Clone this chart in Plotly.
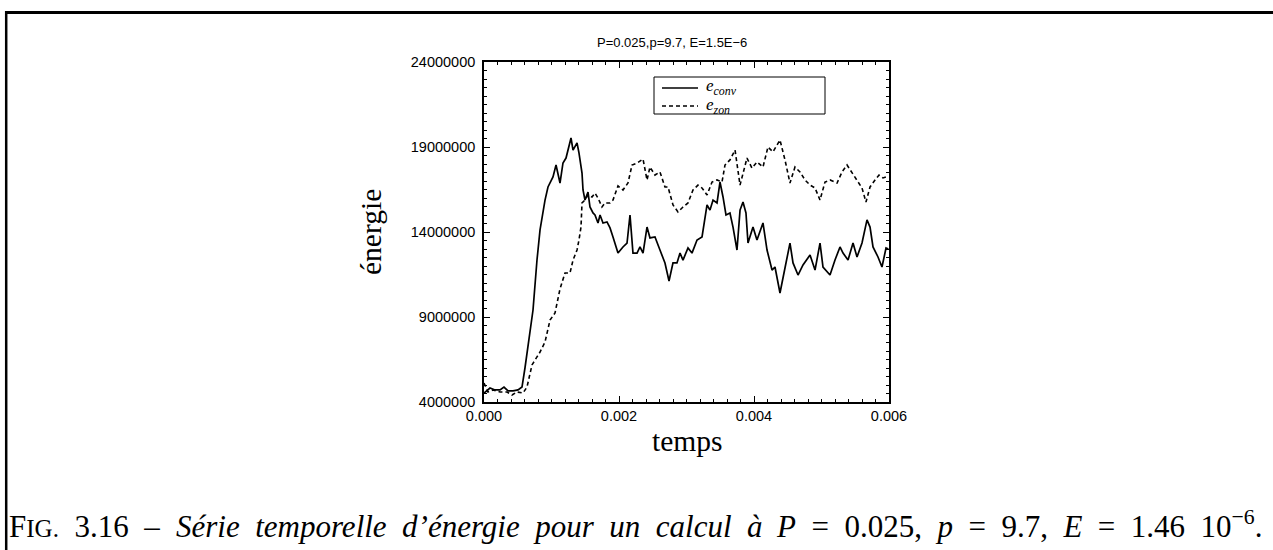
import plotly.graph_objects as go

# Time axis (s) and energy series
t_conv = [0.0, 0.000089, 0.000163, 0.000237, 0.000296, 0.000356, 0.000430, 0.000504, 0.000563, 0.000607,
          0.000726, 0.000756, 0.000785, 0.000830, 0.000904, 0.000948, 0.001022, 0.001067, 0.001126, 0.001170,
          0.001215, 0.001289, 0.001319, 0.001378, 0.001407, 0.001452, 0.001467, 0.001496, 0.001526, 0.001541,
          0.001570, 0.001615, 0.001644, 0.001689, 0.001719, 0.001763, 0.001822, 0.001867, 0.001911, 0.001985,
          0.002059, 0.002119, 0.002163, 0.002207, 0.002267, 0.002311, 0.002356, 0.002415, 0.002459, 0.002533,
          0.002607, 0.002681, 0.002741, 0.002800, 0.002859, 0.002904, 0.002948, 0.003022, 0.003081, 0.003156,
          0.003230, 0.003304, 0.003348, 0.003393, 0.003452, 0.003496, 0.003541, 0.003585, 0.003644, 0.003689,
          0.003748, 0.003793, 0.003837, 0.003881, 0.003911, 0.003985, 0.004044, 0.004133, 0.004193, 0.004267,
          0.004311, 0.004385, 0.004459, 0.004533, 0.004578, 0.004652, 0.004726, 0.004830, 0.004904, 0.004978,
          0.005022, 0.005126, 0.005200, 0.005274, 0.005319, 0.005393, 0.005467, 0.005526, 0.005600, 0.005674,
          0.005719, 0.005763, 0.005837, 0.005896, 0.005956, 0.005990]
e_conv_m = [4.53, 4.82, 4.71, 4.71, 4.88, 4.65, 4.65, 4.71, 4.88, 6.0,
            9.41, 11.18, 12.35, 14.12, 15.88, 16.65, 17.24, 17.94, 16.88, 18.06,
            18.35, 19.53, 18.82, 19.24, 18.65, 17.47, 16.47, 15.88, 16.18, 16.35,
            15.47, 15.12, 15.0, 14.53, 15.0, 14.53, 14.59, 14.24, 13.71, 12.76,
            13.12, 13.35, 15.0, 12.76, 12.76, 13.12, 12.76, 14.29, 13.65, 13.71,
            12.94, 12.18, 11.12, 12.18, 12.18, 12.76, 12.35, 13.06, 12.76, 13.53,
            13.71, 15.59, 15.29, 15.88, 15.71, 16.94, 16.06, 15.0, 15.12, 14.29,
            12.94, 15.29, 15.76, 15.12, 13.35, 14.29, 13.53, 14.53, 12.94, 11.76,
            11.94, 10.41, 11.88, 13.35, 12.18, 11.47, 12.06, 12.65, 11.76, 13.35,
            11.94, 11.47, 12.35, 13.12, 12.76, 12.35, 13.35, 12.53, 13.35, 14.71,
            14.29, 13.12, 12.53, 11.94, 13.06, 13.0]

t_zon = [0.0, 0.000059, 0.000133, 0.000237, 0.000341, 0.000415, 0.000489, 0.000578, 0.000637, 0.000711,
         0.000785, 0.000830, 0.000904, 0.000978, 0.001052, 0.001126, 0.001200, 0.001274, 0.001319, 0.001378,
         0.001407, 0.001437, 0.001452, 0.001496, 0.001541, 0.001600, 0.001644, 0.001689, 0.001748, 0.001793,
         0.001867, 0.001911, 0.001985, 0.002059, 0.002133, 0.002193, 0.002267, 0.002356, 0.002415, 0.002459,
         0.002533, 0.002607, 0.002681, 0.002726, 0.002800, 0.002874, 0.002948, 0.003022, 0.003096, 0.003170,
         0.003230, 0.003304, 0.003378, 0.003452, 0.003526, 0.003570, 0.003644, 0.003719, 0.003793, 0.003837,
         0.003896, 0.003970, 0.004044, 0.004133, 0.004207, 0.004281, 0.004385, 0.004459, 0.004533, 0.004607,
         0.004681, 0.004756, 0.004830, 0.004904, 0.004978, 0.005052, 0.005126, 0.005230, 0.005304, 0.005378,
         0.005452, 0.005526, 0.005600, 0.005659, 0.005719, 0.005793, 0.005852, 0.005911, 0.005956]
e_zon_m = [5.12, 4.59, 4.71, 4.59, 4.59, 4.41, 4.59, 4.53, 4.88, 6.18,
           6.65, 6.94, 7.53, 8.82, 9.24, 10.65, 11.59, 11.59, 12.35, 12.94,
           13.53, 14.29, 15.71, 15.88, 16.18, 16.06, 16.29, 16.00, 15.47, 15.71,
           15.71, 15.88, 16.71, 16.47, 16.88, 17.94, 18.06, 18.29, 17.06, 17.82,
           17.35, 17.53, 16.65, 16.65, 15.59, 15.18, 15.47, 15.71, 16.47, 16.76,
           16.59, 16.18, 16.94, 17.06, 16.94, 17.94, 18.24, 18.82, 16.76, 17.47,
           18.35, 17.76, 18.12, 17.82, 19.00, 18.71, 19.41, 18.24, 16.88, 17.82,
           17.53, 17.06, 16.76, 16.59, 15.88, 16.94, 17.06, 16.88, 17.53, 17.94,
           17.47, 17.06, 16.59, 15.76, 16.65, 17.06, 17.35, 17.18, 17.24]

x_ticks = [0.0, 0.002, 0.004, 0.006]
y_ticks = [4000000, 9000000, 14000000, 19000000, 24000000]

series_names = ["<i>e<sub>conv</sub></i>", "<i>e<sub>zon</sub></i>"]
series_dash = ["solid", "4px,3px"]

assert len(t_conv) == len(e_conv_m) and len(t_zon) == len(e_zon_m)
e_conv = [v * 1e6 for v in e_conv_m]
e_zon = [v * 1e6 for v in e_zon_m]

SANS = "Liberation Sans, Arial, Helvetica, sans-serif"
SERIF = "Liberation Serif, Times New Roman, serif"

# Plot-area geometry in pixels, used to place page furniture in paper units
PX_L, PX_R, PX_T, PX_B = 484, 889, 62, 402
W, H = 1273, 550


def px(xp):
    return (xp - PX_L) / (PX_R - PX_L)


def py(yp):
    return (PX_B - yp) / (PX_B - PX_T)


fig = go.Figure()
fig.add_trace(go.Scatter(x=t_conv, y=e_conv, mode="lines", name=series_names[0],
                         line=dict(color="black", width=1.7, dash=series_dash[0])))
fig.add_trace(go.Scatter(x=t_zon, y=e_zon, mode="lines", name=series_names[1],
                         line=dict(color="black", width=1.6, dash=series_dash[1])))

axis_common = dict(
    showline=True, linecolor="black", linewidth=1.6, mirror="ticks",
    ticks="inside", ticklen=6, tickwidth=1.2, tickcolor="black",
    showgrid=False, zeroline=False,
    tickfont=dict(family=SANS, size=14.5, color="black"),
)

fig.update_xaxes(range=[0, 0.006], tickvals=x_ticks, tickformat=".3f",
                 minor=dict(ticks="inside", ticklen=3, dtick=0.0002, tickcolor="black", showgrid=False),
                 **axis_common)
fig.update_yaxes(range=[4000000, 24000000], tickvals=y_ticks, tickformat="d",
                 ticklabelstandoff=4,
                 minor=dict(ticks="inside", ticklen=3, dtick=500000, tickcolor="black", showgrid=False),
                 **axis_common)

SP = "\u2002"   # en space, for the wide word spacing of the caption
CAP_SIZE = 31
cap_font = dict(family=SERIF, size=CAP_SIZE, color="black")
cap_label = "F<span style='font-size:25px'>IG.</span>" + SP + "3.16" + SP + "–"
cap_text = SP.join(["<i>Série", "temporelle", "d’énergie", "pour", "un", "calcul", "à</i>"])
cap_math = SP.join(["<i>P</i>", "=", "0.025,", "<i>p</i>", "=", "9.7,",
                    "<i>E</i>", "=", "1.46", "10<sup>−6</sup>."])
CAP_BOTTOM = 546

annotations = [
    dict(text="P=0.025,p=9.7, E=1.5E−6", x=px(672), y=py(43),
         xref="paper", yref="paper", showarrow=False, xanchor="center", yanchor="middle",
         font=dict(family=SANS, size=13, color="black")),
    dict(text="énergie", x=px(371), y=0.5,
         xref="paper", yref="paper",
         showarrow=False, textangle=-90, xanchor="center", yanchor="middle",
         font=dict(family=SERIF, size=29.5, color="black")),
    dict(text="temps", x=px(687), y=py(441), xref="paper", yref="paper",
         showarrow=False, xanchor="center", yanchor="middle",
         font=dict(family=SERIF, size=29.5, color="black")),
    dict(text=cap_label, x=px(7), y=py(CAP_BOTTOM), xref="paper", yref="paper",
         showarrow=False, xanchor="left", yanchor="bottom", font=cap_font),
    dict(text=cap_text, x=px(174), y=py(CAP_BOTTOM), xref="paper", yref="paper",
         showarrow=False, xanchor="left", yanchor="bottom", font=cap_font),
    dict(text=cap_math, x=px(1264), y=py(CAP_BOTTOM), xref="paper", yref="paper",
         showarrow=False, xanchor="right", yanchor="bottom", font=cap_font),
]

# Legend box with sample lines and labels
LEG_L, LEG_R, LEG_T, LEG_B = 654, 825, 77, 114
leg_rows = [88, 106]
shapes = [
    dict(type="rect", xref="paper", yref="paper",
         x0=px(LEG_L), x1=px(LEG_R), y0=py(LEG_B), y1=py(LEG_T),
         line=dict(color="black", width=1), fillcolor="white", layer="above"),
]
for row, dash in zip(leg_rows, series_dash):
    shapes.append(dict(type="line", xref="paper", yref="paper",
                       x0=px(662), x1=px(698), y0=py(row), y1=py(row),
                       line=dict(color="black", width=1.6, dash=dash), layer="above"))
for row, name in zip(leg_rows, series_names):
    annotations.append(dict(text=name, x=px(704), y=py(row - 0.5), xref="paper", yref="paper",
                            showarrow=False, xanchor="left", yanchor="middle",
                            font=dict(family=SERIF, size=17, color="black")))

# Page frame: top rule and left rule
shapes += [
    dict(type="line", xref="paper", yref="paper",
         x0=px(5), x1=px(W), y0=py(12.5), y1=py(12.5),
         line=dict(color="black", width=3)),
    dict(type="line", xref="paper", yref="paper",
         x0=px(6.2), x1=px(6.2), y0=py(11), y1=py(H + 10),
         line=dict(color="black", width=2.5)),
]

fig.update_layout(
    width=W, height=H,
    margin=dict(l=PX_L, r=W - PX_R, t=PX_T, b=H - PX_B, autoexpand=False),
    paper_bgcolor="white", plot_bgcolor="white",
    showlegend=False,
    annotations=annotations,
    shapes=shapes,
)

fig.write_html("out.html")
